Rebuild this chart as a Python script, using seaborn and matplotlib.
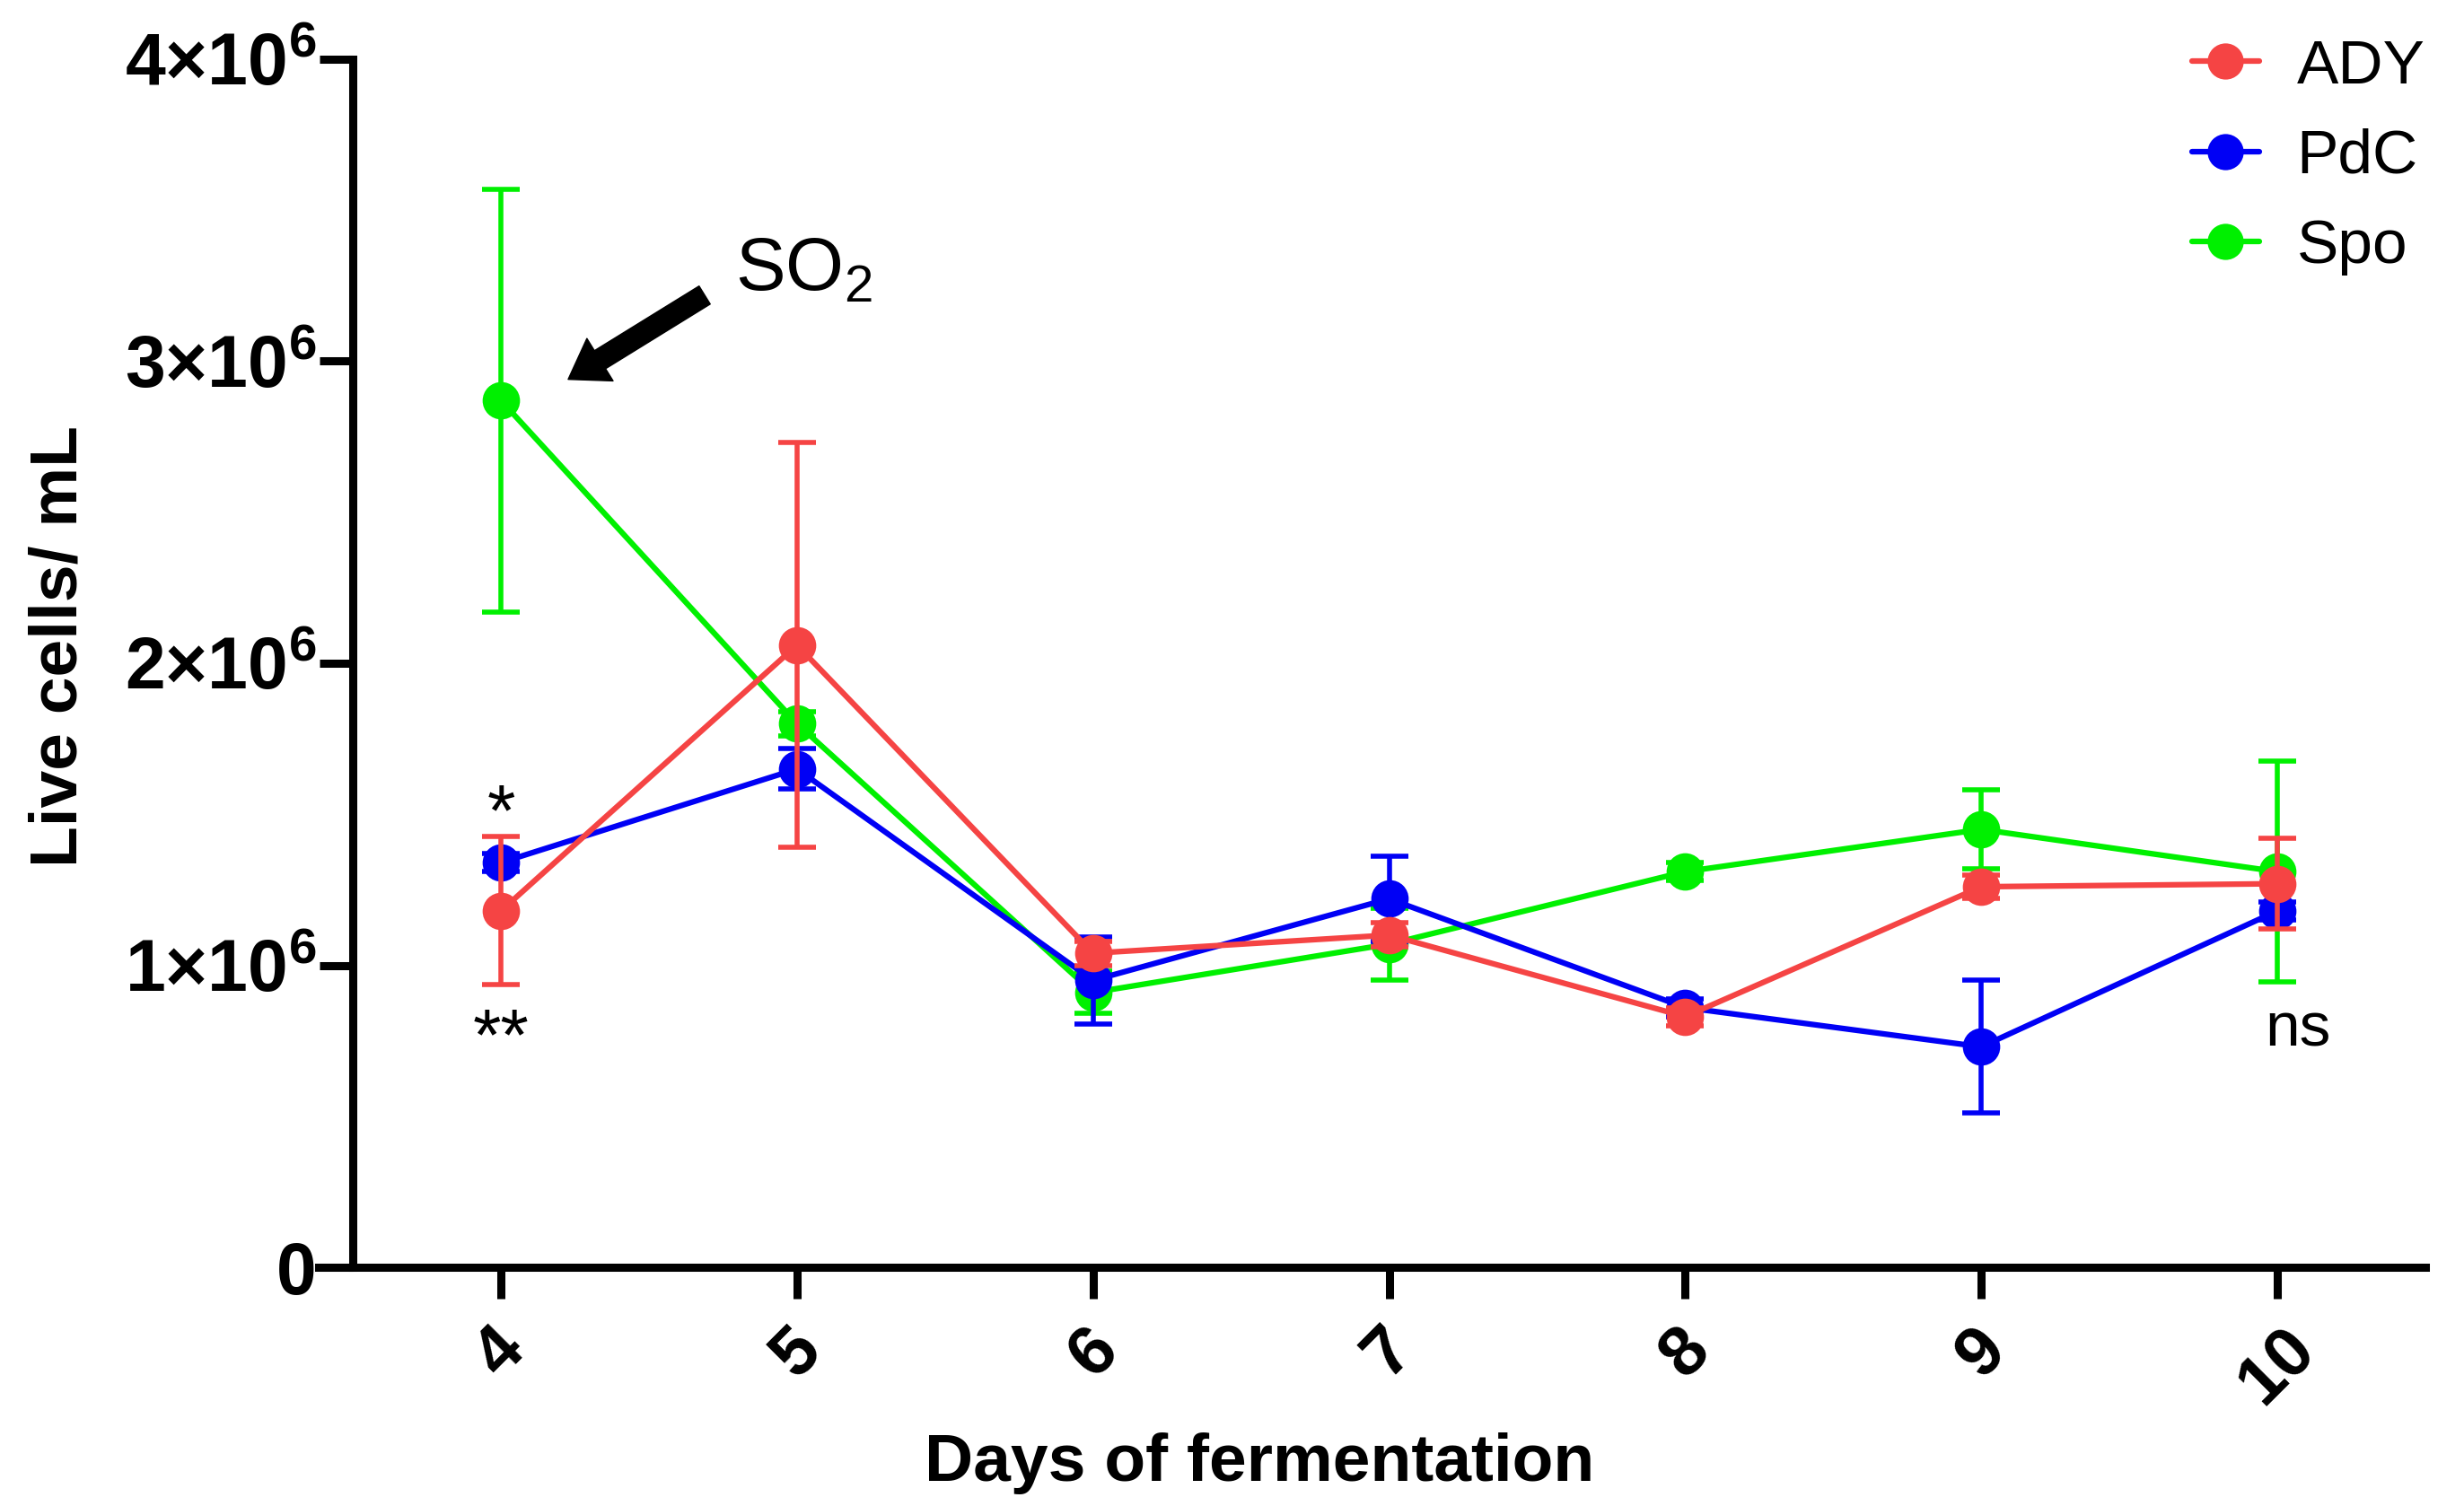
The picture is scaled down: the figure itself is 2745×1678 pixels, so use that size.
import matplotlib
matplotlib.use("Agg")
import matplotlib.pyplot as plt
import seaborn as sns
import pandas as pd
from matplotlib.lines import Line2D

# ---- data (cells/mL) ----
days = [4, 5, 6, 7, 8, 9, 10]
ady_mean = [1.18e6, 2.06e6, 1.04e6, 1.10e6, 0.83e6, 1.26e6, 1.27e6]
ady_sd = [0.245e6, 0.67e6, 0.04e6, 0.04e6, 0.03e6, 0.04e6, 0.15e6]
pdc_mean = [1.34e6, 1.65e6, 0.95e6, 1.22e6, 0.86e6, 0.73e6, 1.18e6]
pdc_sd = [0.03e6, 0.067e6, 0.145e6, 0.14e6, 0.03e6, 0.22e6, 0.03e6]
spo_mean = [2.87e6, 1.80e6, 0.91e6, 1.07e6, 1.31e6, 1.45e6, 1.31e6]
spo_sd = [0.70e6, 0.04e6, 0.07e6, 0.12e6, 0.03e6, 0.13e6, 0.365e6]

series_names = ["ADY", "PdC", "Spo"]
colors = {"ADY": "#F54444", "PdC": "#0000F5", "Spo": "#00F000"}
y_ticks = [0, 1e6, 2e6, 3e6, 4e6]
y_ticklabels = ["0", r"1×10$^{\mathbf{6}}$", r"2×10$^{\mathbf{6}}$",
                r"3×10$^{\mathbf{6}}$", r"4×10$^{\mathbf{6}}$"]

frames = []
for name, m, s in [("ADY", ady_mean, ady_sd), ("PdC", pdc_mean, pdc_sd), ("Spo", spo_mean, spo_sd)]:
    frames.append(pd.DataFrame({"day": days, "mean": m, "sd": s, "strain": name}))
df = pd.concat(frames, ignore_index=True)

sns.set_style("ticks")
plt.rcParams["font.family"] = ["Liberation Sans", "DejaVu Sans"]
plt.rcParams["mathtext.fontset"] = "custom"
plt.rcParams["mathtext.rm"] = "Liberation Sans"
plt.rcParams["mathtext.bf"] = "Liberation Sans:bold"
for k in ["text.color", "axes.labelcolor", "xtick.color", "ytick.color", "axes.edgecolor"]:
    plt.rcParams[k] = "black"

fig = plt.figure(figsize=(27.45, 16.78), dpi=100)
ax = fig.add_axes([0.1293, 0.1585, 0.855, 0.8022])

draw_order = ["Spo", "PdC", "ADY"]
z = {"Spo": 3, "PdC": 5, "ADY": 7}
for name in draw_order:
    sub = df[df["strain"] == name]
    ax.errorbar(sub["day"], sub["mean"], yerr=sub["sd"], fmt="none",
                ecolor=colors[name], elinewidth=4, capsize=15, capthick=4,
                zorder=z[name])
    sns.lineplot(data=sub, x="day", y="mean", ax=ax, color=colors[name],
                 marker="o", markersize=30, markeredgewidth=0, linewidth=4.5,
                 errorbar=None, zorder=z[name] + 1, legend=False)

ax.set_xlim(3.5 - 0.116, 10.5)
ax.set_ylim(0, 4e6)
ax.spines["left"].set_position(("data", 3.5))
for sp in ["top", "right"]:
    ax.spines[sp].set_visible(False)
for sp in ["left", "bottom"]:
    ax.spines[sp].set_linewidth(6.5)
    ax.spines[sp].set_color("black")
    ax.spines[sp].set_capstyle("projecting")

ax.set_xticks(days)
ax.set_xticklabels([str(d) for d in days], rotation=45, ha="center",
                   fontsize=56, fontweight="bold")
ax.set_yticks(y_ticks)
ax.set_yticklabels(y_ticklabels, fontsize=58, fontweight="bold")
ax.tick_params(axis="y", length=27, width=6.5, pad=2, direction="out", colors="black")
ax.tick_params(axis="x", length=25, width=6.5, pad=14, direction="out", colors="black")

ax.set_xlabel("Days of fermentation", fontsize=54, fontweight="bold", color="black")
ax.set_ylabel("Live cells/ mL", fontsize=54, fontweight="bold", color="black")
ax.xaxis.set_label_coords(0.4465, -0.137)
ax.yaxis.set_label_coords(-0.1085, 0.514)

# annotations
ax.annotate("", xy=(4.227, 2.94e6), xytext=(4.688, 3.219e6),
            arrowprops=dict(facecolor="black", edgecolor="black", width=17,
                            headwidth=40, headlength=30, shrink=0))
ax.text(4.79, 3.237e6, "SO$_2$", fontsize=60, ha="left", va="baseline", color="black")
ax.text(4.0, 1.495e6, "*", fontsize=58, ha="center", va="center", color="black")
ax.text(4.0, 0.75e6, "**", fontsize=58, ha="center", va="center", color="black")
ax.text(10.07, 0.787e6, "ns", fontsize=50, ha="center", va="center", color="black")

handles = [Line2D([0], [0], color=colors[n], marker="o", markersize=29,
                  markeredgewidth=0, linewidth=4.5) for n in series_names]
leg = fig.legend(handles, series_names, loc="upper left",
                 bbox_to_anchor=(0.8896, 0.9745), frameon=False, fontsize=50,
                 handlelength=1.08, handletextpad=0.6, labelspacing=0.52,
                 borderpad=0, borderaxespad=0)
for t in leg.get_texts():
    t.set_color("black")

fig.savefig("out.png", dpi=100, facecolor="white")
